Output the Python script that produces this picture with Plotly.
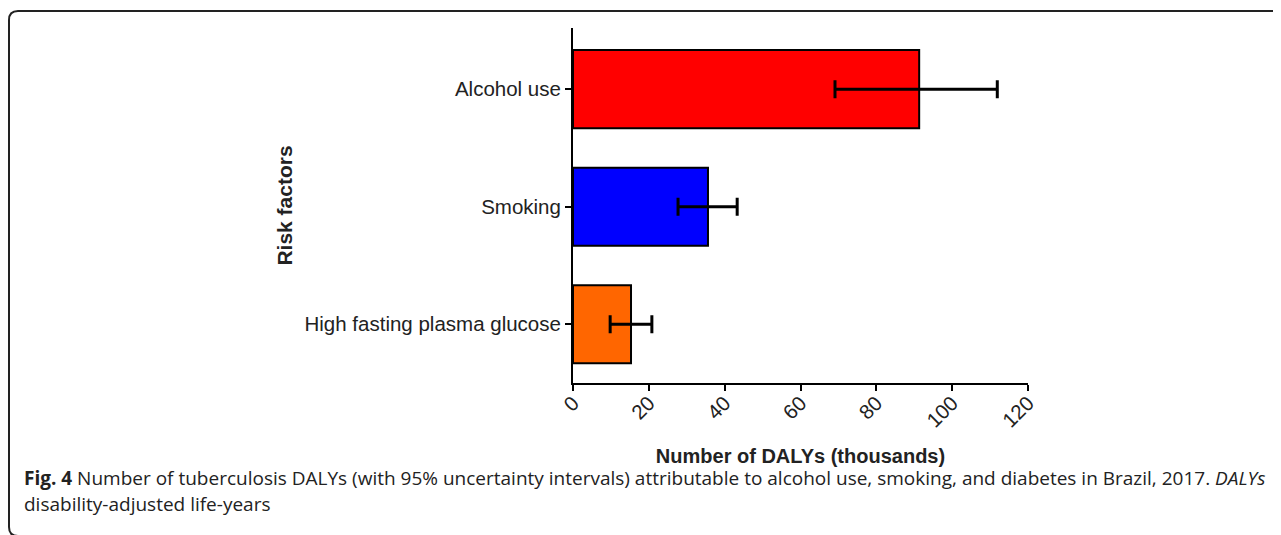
import plotly.graph_objects as go

categories = ["High fasting plasma glucose", "Smoking", "Alcohol use"]
values = [15.3, 35.6, 91.3]
lower = [9.8, 27.7, 69.1]
upper = [20.8, 43.3, 111.9]
colors = ["#FF6600", "#0000FF", "#FF0000"]
x_ticks = [0, 20, 40, 60, 80, 100, 120]

OFF = 8  # page body margin
W, H = 1281, 535
L, R, T, B = 573 - OFF, 1028 - OFF, 28 - OFF, 383 - OFF


def px(x):
    return (x - OFF - L) / (R - L)


def py(y):
    return (B - (y - OFF)) / (B - T)


fig = go.Figure(go.Bar(
    y=categories,
    x=values,
    orientation="h",
    width=0.664,
    marker=dict(color=colors, line=dict(color="black", width=2)),
    error_x=dict(
        type="data",
        symmetric=False,
        array=[u - v for u, v in zip(upper, values)],
        arrayminus=[v - l for v, l in zip(values, lower)],
        color="black",
        thickness=3,
        width=9,
    ),
))

# rounded frame
r = 9
x0, y0, x1, y1 = 9, 11, 1300, 536
path = (
    f"M {px(x1)},{py(y0)} L {px(x0 + r)},{py(y0)} "
    f"Q {px(x0)},{py(y0)} {px(x0)},{py(y0 + r)} "
    f"L {px(x0)},{py(y1 - r)} "
    f"Q {px(x0)},{py(y1)} {px(x0 + r)},{py(y1)} "
    f"L {px(x1)},{py(y1)}"
)
fig.add_shape(type="path", path=path, xref="paper", yref="paper",
              line=dict(color="#222", width=2))

cap_font = dict(family="Open Sans, sans-serif", size=19, color="#222")
fig.add_annotation(
    text="<b>Fig. 4</b> Number of tuberculosis DALYs (with 95% uncertainty intervals) attributable to alcohol use, smoking, and diabetes in Brazil, 2017. <i>DALYs</i>",
    xref="paper", yref="paper", x=px(22), y=py(478), xanchor="left", yanchor="middle",
    showarrow=False, font=cap_font, align="left",
)
fig.add_annotation(
    text="disability-adjusted life-years",
    xref="paper", yref="paper", x=px(22), y=py(504), xanchor="left", yanchor="middle",
    showarrow=False, font=cap_font, align="left",
)

fig.update_layout(
    width=W, height=H,
    margin=dict(l=L, r=W - R, t=T, b=H - B, pad=0),
    paper_bgcolor="white", plot_bgcolor="white",
    showlegend=False,
    font=dict(family="Liberation Sans, Arial, sans-serif", color="#222"),
    xaxis=dict(
        range=[0, 120], tickvals=x_ticks, ticktext=[str(t) for t in x_ticks],
        tickangle=-45, ticks="outside", ticklen=6, tickwidth=2, tickcolor="black",
        showline=True, linecolor="black", linewidth=2, showgrid=False, zeroline=False,
        tickfont=dict(size=20.5), ticklabelstandoff=-8,
        title=dict(text="<b>Number of DALYs (thousands)</b>", font=dict(size=20), standoff=18),
        fixedrange=True,
    ),
    yaxis=dict(
        range=[-0.5, 2.52], ticks="outside", ticklen=6, tickwidth=2, tickcolor="black",
        showline=True, linecolor="black", linewidth=2, showgrid=False, zeroline=False,
        tickfont=dict(size=20.5),
        title=dict(text="<b>Risk factors</b>", font=dict(size=21), standoff=6),
        fixedrange=True,
    ),
)

fig.write_html("out.html")
